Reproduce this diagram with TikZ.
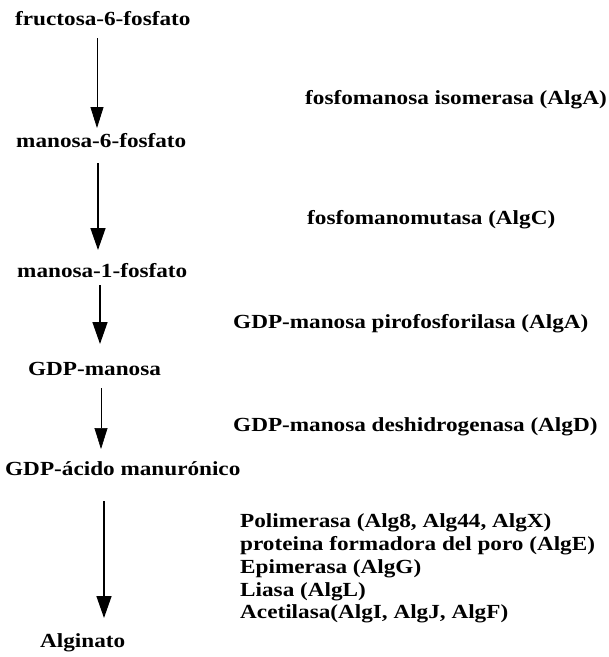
\documentclass[tikz,border=0pt]{standalone}
\usepackage{fontspec}
\setmainfont{Liberation Serif}[FakeStretch=1.16]
\usetikzlibrary{arrows.meta}
\begin{document}
\begin{tikzpicture}[x=1pt,y=-1pt,
  lbl/.style={anchor=base west,inner sep=0pt,font=\fontsize{20}{23}\selectfont\bfseries},
  enz/.style={anchor=base west,inner sep=0pt,font=\fontsize{20}{23}\selectfont\bfseries},
  arr/.style={line width=1.4pt,-{Triangle[length=22pt,width=15pt]}},
  arrthin/.style={line width=0.8pt,-{Triangle[length=21pt,width=13pt]}}]
\useasboundingbox (0,0) rectangle (609,657);
\node[lbl] (f6p) at (15,25) {fructosa-6-fosfato};
\node[lbl] (m6p) at (16,147) {manosa-6-fosfato};
\node[lbl] (m1p) at (17,277) {manosa-1-fosfato};
\node[lbl] (gdpm) at (28,375) {GDP-manosa};
\node[lbl] (gdpa) at (5,475) {GDP-ácido manurónico};
\node[lbl] (alg) at (40,647) {Alginato};
\node[enz] (e1) at (305,104) {fosfomanosa isomerasa (AlgA)};
\node[enz] (e2) at (307,224) {fosfomanomutasa (AlgC)};
\node[enz] (e3) at (233,328) {GDP-manosa pirofosforilasa (AlgA)};
\node[enz] (e4) at (233,431) {GDP-manosa deshidrogenasa (AlgD)};
\node[enz] (e5a) at (240,527) {Polimerasa (Alg8, Alg44, AlgX)};
\node[enz] (e5b) at (240,550) {proteina formadora del poro (AlgE)};
\node[enz] (e5c) at (240,573) {Epimerasa (AlgG)};
\node[enz] (e5d) at (240,596) {Liasa (AlgL)};
\node[enz] (e5e) at (240,618) {Acetilasa(AlgI, AlgJ, AlgF)};
\coordinate (x1) at (97,0);
\coordinate (x2) at (98,0);
\coordinate (x3) at (100,0);
\coordinate (x4) at (101,0);
\coordinate (x5) at (104,0);
\draw[arrthin] ([yshift=-13]f6p.base -| x1) -- ([yshift=19]m6p.base -| x1);
\draw[arr] ([yshift=-16]m6p.base -| x2) -- ([yshift=27]m1p.base -| x2);
\draw[arr] ([yshift=-8]m1p.base -| x3) -- ([yshift=31]gdpm.base -| x3);
\draw[arrthin,line width=0.6pt] ([yshift=-13]gdpm.base -| x4) -- ([yshift=26]gdpa.base -| x4);
\draw[arr] ([yshift=-26]gdpa.base -| x5) -- ([yshift=29]alg.base -| x5);
\end{tikzpicture}
\end{document}
